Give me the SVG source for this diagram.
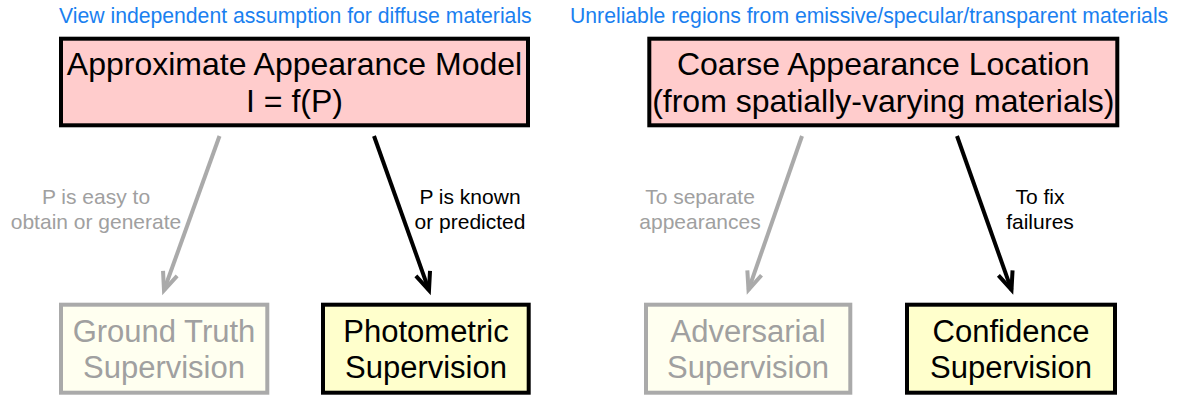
<svg xmlns="http://www.w3.org/2000/svg" width="1177" height="398" viewBox="0 0 1177 398">
<style>
text{font-family:"Liberation Sans",Arial,Helvetica,sans-serif}
.note{font-size:21.2px;fill:#1a80f0}
.big{font-size:32px;fill:#000;text-anchor:middle}
.mid{font-size:31px;text-anchor:middle}
.lbl{font-size:21px;text-anchor:middle}
.top{fill:#ffcccc;stroke:#000;stroke-width:4}
.on{fill:#ffffcc;stroke:#000;stroke-width:4}
.off{fill:#fffff0;stroke:#aaaaaa;stroke-width:4}
.ton{fill:#000}
.toff{fill:#a0a0a0}
.arr{fill:none;stroke-width:4}
.ag{stroke:#aaaaaa}
.ab{stroke:#000}
</style>
<defs>
<marker id="hg" markerUnits="userSpaceOnUse" orient="auto" markerWidth="30" markerHeight="30" refX="0" refY="0" viewBox="-25 -15 30 30" overflow="visible">
<path d="M-18,-7.5 L0,0 L-18,7.5" fill="none" stroke="#aaaaaa" stroke-width="4"/>
</marker>
<marker id="hb" markerUnits="userSpaceOnUse" orient="auto" markerWidth="30" markerHeight="30" refX="0" refY="0" viewBox="-25 -15 30 30" overflow="visible">
<path d="M-18,-7.5 L0,0 L-18,7.5" fill="none" stroke="#000" stroke-width="4"/>
</marker>
</defs>
<text class="note" x="59" y="23">View independent assumption for diffuse materials</text>
<text class="note" x="570" y="23">Unreliable regions from emissive/specular/transparent materials</text>
<g id="approx-model">
<rect class="top" x="61" y="38.7" width="467" height="86.6"/>
<text class="big" x="294.5" y="74.5">Approximate Appearance Model</text>
<text class="big" x="294.5" y="112">I = f(P)</text>
</g>
<g id="coarse-location">
<rect class="top" x="649.3" y="38.7" width="468" height="86.6"/>
<text class="big" x="883.3" y="74.5">Coarse Appearance Location</text>
<text class="big" x="883.3" y="112">(from spatially-varying materials)</text>
</g>
<g id="ground-truth">
<rect class="off" x="61" y="304.7" width="206.3" height="88"/>
<text class="mid toff" x="164" y="341.5">Ground Truth</text>
<text class="mid toff" x="164" y="378">Supervision</text>
</g>
<g id="photometric">
<rect class="on" x="323" y="304.7" width="205.7" height="88"/>
<text class="mid ton" x="426" y="341.5">Photometric</text>
<text class="mid ton" x="426" y="378">Supervision</text>
</g>
<g id="adversarial">
<rect class="off" x="646" y="304.7" width="204.3" height="88"/>
<text class="mid toff" x="748" y="341.5">Adversarial</text>
<text class="mid toff" x="748" y="378">Supervision</text>
</g>
<g id="confidence">
<rect class="on" x="907" y="304.7" width="208" height="88"/>
<text class="mid ton" x="1011" y="341.5">Confidence</text>
<text class="mid ton" x="1011" y="378">Supervision</text>
</g>
<g id="connectors">
<line class="arr ag" x1="219.5" y1="136" x2="164" y2="290.3" marker-end="url(#hg)"/>
<line class="arr ab" x1="374" y1="136" x2="429" y2="290.3" marker-end="url(#hb)"/>
<line class="arr ag" x1="802" y1="136" x2="748.5" y2="289.8" marker-end="url(#hg)"/>
<line class="arr ab" x1="957" y1="136" x2="1011.5" y2="289.8" marker-end="url(#hb)"/>
<text class="lbl toff" x="96" y="204">P is easy to</text>
<text class="lbl toff" x="96" y="228.5">obtain or generate</text>
<text class="lbl ton" x="470" y="204">P is known</text>
<text class="lbl ton" x="470" y="228.5">or predicted</text>
<text class="lbl toff" x="700" y="204">To separate</text>
<text class="lbl toff" x="700" y="228.5">appearances</text>
<text class="lbl ton" x="1040" y="204">To fix</text>
<text class="lbl ton" x="1040" y="228.5">failures</text>
</g>
</svg>
